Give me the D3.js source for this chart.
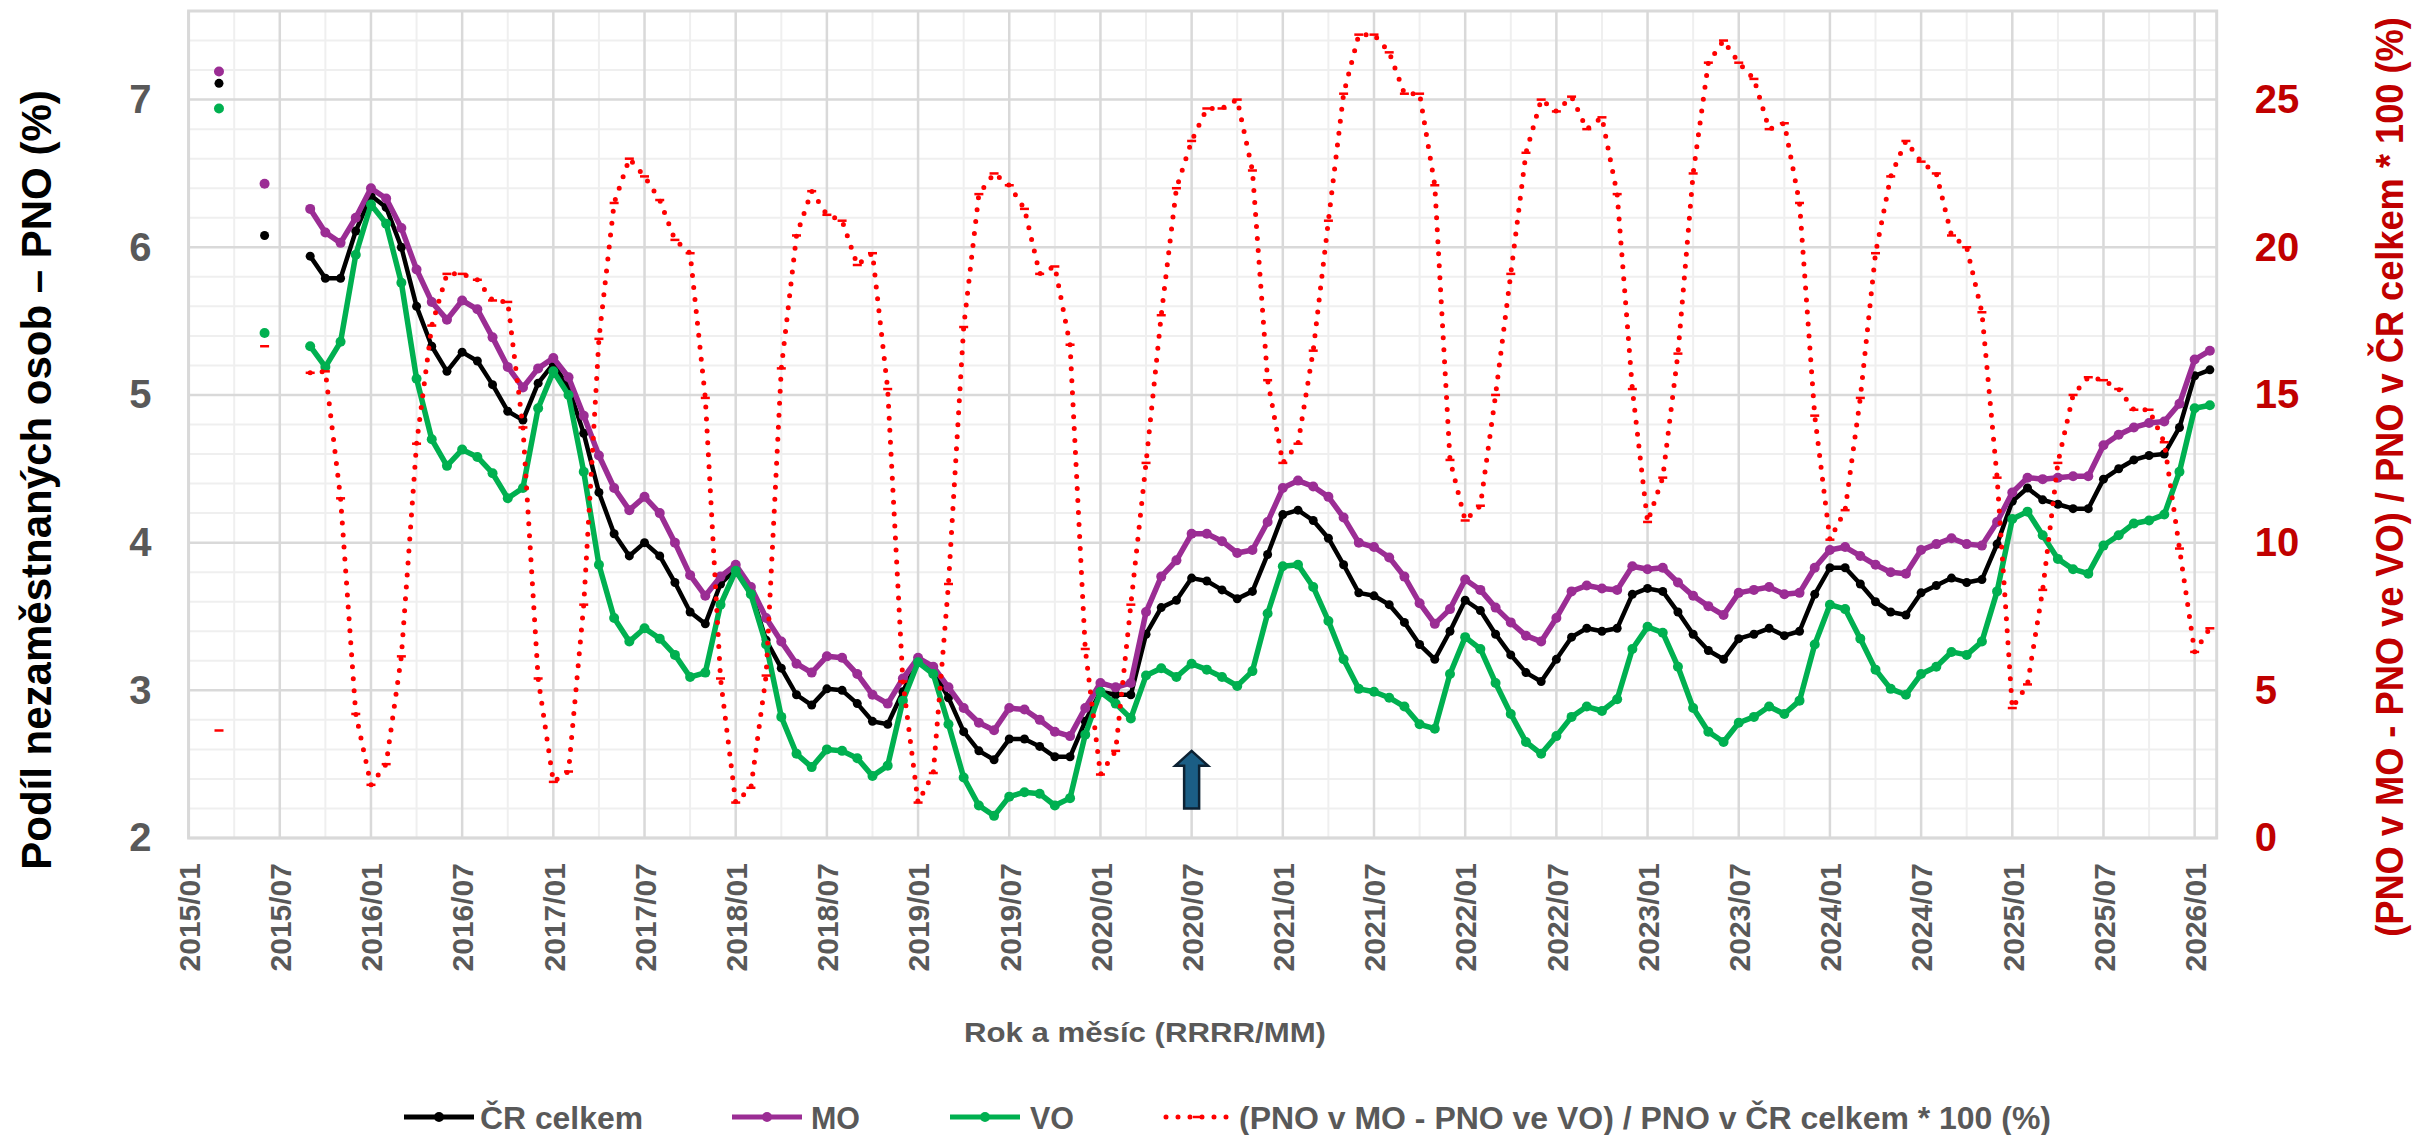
<!DOCTYPE html>
<html><head><meta charset="utf-8">
<script src="https://cdn.jsdelivr.net/npm/d3@7/dist/d3.min.js"></script>
<style>body{margin:0;background:#fff;} svg{display:block;}</style>
</head><body>
<svg id="c" width="2430" height="1135"></svg>
<script>
const months = [
"2015/03","2015/04","2015/05","2015/06","2015/07","2015/08","2015/09","2015/10","2015/11","2015/12",
"2016/01","2016/02","2016/03","2016/04","2016/05","2016/06","2016/07","2016/08","2016/09","2016/10","2016/11","2016/12",
"2017/01","2017/02","2017/03","2017/04","2017/05","2017/06","2017/07","2017/08","2017/09","2017/10","2017/11","2017/12",
"2018/01","2018/02","2018/03","2018/04","2018/05","2018/06","2018/07","2018/08","2018/09","2018/10","2018/11","2018/12",
"2019/01","2019/02","2019/03","2019/04","2019/05","2019/06","2019/07","2019/08","2019/09","2019/10","2019/11","2019/12",
"2020/01","2020/02","2020/03","2020/04","2020/05","2020/06","2020/07","2020/08","2020/09","2020/10","2020/11","2020/12",
"2021/01","2021/02","2021/03","2021/04","2021/05","2021/06","2021/07","2021/08","2021/09","2021/10","2021/11","2021/12",
"2022/01","2022/02","2022/03","2022/04","2022/05","2022/06","2022/07","2022/08","2022/09","2022/10","2022/11","2022/12",
"2023/01","2023/02","2023/03","2023/04","2023/05","2023/06","2023/07","2023/08","2023/09","2023/10","2023/11","2023/12",
"2024/01","2024/02","2024/03","2024/04","2024/05","2024/06","2024/07","2024/08","2024/09","2024/10","2024/11","2024/12",
"2025/01","2025/02","2025/03","2025/04","2025/05","2025/06","2025/07","2025/08","2025/09","2025/10","2025/11","2025/12",
"2026/01","2026/02"];

// ČR celkem (%)
const crCelkem = [
7.11,null,null,6.08,null,null,5.94,5.79,5.79,6.11,
6.35,6.27,6.00,5.60,5.33,5.16,5.29,5.23,5.07,4.89,4.83,5.08,
5.21,5.05,4.74,4.34,4.06,3.91,4.00,3.91,3.73,3.53,3.45,3.72,
3.82,3.67,3.34,3.15,2.97,2.90,3.01,3.00,2.91,2.79,2.77,2.99,
3.20,3.13,2.95,2.72,2.59,2.53,2.67,2.67,2.62,2.55,2.55,2.79,
2.99,2.97,2.97,3.38,3.56,3.61,3.76,3.74,3.68,3.62,3.67,3.92,
4.19,4.22,4.15,4.03,3.85,3.66,3.64,3.58,3.46,3.31,3.21,3.40,
3.61,3.54,3.38,3.24,3.12,3.06,3.21,3.36,3.42,3.40,3.42,3.65,
3.69,3.67,3.53,3.38,3.27,3.21,3.35,3.38,3.42,3.37,3.40,3.65,
3.83,3.83,3.72,3.60,3.53,3.51,3.66,3.71,3.76,3.73,3.75,3.99,
4.28,4.37,4.29,4.26,4.23,4.23,4.43,4.50,4.56,4.59,4.60,4.78,
5.13,5.17];

// MO (%)
const mo = [
7.19,null,null,6.43,null,null,6.26,6.10,6.03,6.20,
6.40,6.33,6.13,5.85,5.63,5.51,5.64,5.58,5.39,5.19,5.05,5.18,
5.25,5.12,4.86,4.59,4.37,4.22,4.31,4.20,4.00,3.78,3.64,3.77,
3.85,3.70,3.49,3.33,3.18,3.12,3.23,3.22,3.11,2.97,2.91,3.08,
3.22,3.16,3.02,2.88,2.78,2.73,2.88,2.87,2.80,2.72,2.69,2.88,
3.05,3.02,3.05,3.53,3.77,3.88,4.06,4.06,4.01,3.93,3.95,4.14,
4.37,4.42,4.38,4.31,4.17,4.00,3.97,3.90,3.77,3.59,3.45,3.55,
3.75,3.68,3.56,3.46,3.37,3.33,3.49,3.67,3.71,3.69,3.68,3.84,
3.82,3.83,3.73,3.64,3.57,3.51,3.66,3.68,3.70,3.65,3.66,3.83,
3.95,3.97,3.91,3.85,3.80,3.79,3.95,3.99,4.03,3.99,3.98,4.14,
4.34,4.44,4.43,4.44,4.45,4.45,4.66,4.73,4.78,4.81,4.82,4.94,
5.24,5.30];

// VO (%)
const vo = [
6.94,null,null,5.42,null,null,5.33,5.19,5.36,5.95,
6.29,6.16,5.76,5.11,4.70,4.52,4.63,4.58,4.47,4.30,4.37,4.91,
5.16,5.00,4.48,3.85,3.49,3.33,3.42,3.35,3.24,3.09,3.12,3.58,
3.81,3.65,3.31,2.82,2.57,2.48,2.60,2.59,2.54,2.42,2.49,2.93,
3.19,3.11,2.77,2.41,2.22,2.15,2.28,2.31,2.30,2.22,2.27,2.70,
2.99,2.91,2.81,3.10,3.15,3.09,3.18,3.14,3.09,3.03,3.13,3.52,
3.84,3.85,3.70,3.47,3.21,3.01,2.99,2.95,2.89,2.77,2.74,3.11,
3.36,3.28,3.05,2.84,2.65,2.57,2.69,2.82,2.89,2.86,2.94,3.28,
3.43,3.39,3.16,2.88,2.72,2.65,2.78,2.82,2.89,2.84,2.93,3.31,
3.58,3.55,3.35,3.14,3.01,2.97,3.11,3.16,3.26,3.24,3.33,3.67,
4.16,4.21,4.05,3.89,3.82,3.79,3.98,4.05,4.13,4.15,4.19,4.48,
4.91,4.93];

// (PNO v MO - PNO ve VO) / PNO v ČR celkem * 100 (%)
const rozdil = [
3.64,null,null,16.65,null,null,15.75,15.8,11.5,4.2,
1.8,2.5,6.15,13.35,17.35,19.1,19.1,18.9,18.2,18.15,13.9,5.4,
1.9,2.25,7.9,16.9,21.5,23.0,22.4,21.6,20.25,19.8,14.9,5.4,
1.2,1.7,5.5,15.9,20.4,21.9,21.1,20.9,19.4,19.8,15.2,5.3,
1.2,2.2,8.6,17.3,21.8,22.5,22.1,21.3,19.1,19.35,16.7,6.4,
2.15,2.95,7.9,12.7,17.7,22.0,23.6,24.7,24.7,25.0,22.6,15.5,
12.7,13.35,16.5,20.9,25.2,27.2,27.2,26.6,25.2,25.2,22.1,12.8,
10.75,11.25,15.0,19.1,23.2,25.0,24.6,25.1,24.0,24.4,21.8,15.2,
10.7,12.2,16.4,22.5,26.25,27.0,26.25,25.7,24.0,24.2,21.5,14.3,
10.1,11.1,14.9,19.8,22.4,23.6,22.9,22.5,20.4,20.0,17.8,12.2,
4.4,5.2,8.4,12.7,15.0,15.6,15.5,15.2,14.5,14.5,13.4,9.8,
6.3,7.1];

const xTickLabels = ["2015/01","2015/07","2016/01","2016/07","2017/01","2017/07","2018/01","2018/07",
"2019/01","2019/07","2020/01","2020/07","2021/01","2021/07","2022/01","2022/07","2023/01","2023/07",
"2024/01","2024/07","2025/01","2025/07","2026/01"];
const yLeftTicks = [2,3,4,5,6,7];
const yRightTicks = [0,5,10,15,20,25];
const arrowMonth = "2020/07";

const seriesNames = ["ČR celkem","MO","VO","(PNO v MO - PNO ve VO) / PNO v ČR celkem * 100 (%)"];
const seriesColors = ["#000000","#9b2d94","#00b050","#ff0000"];

// ---------- layout ----------
const L = 188.6, R = 2216.7, T = 11, B = 838;
const mIndex = s => { const [y,m] = s.split("/").map(Number); return (y-2015)*12 + (m-1); };
const x = d3.scaleLinear().domain([0, 133.45]).range([L, R]);
const yL = d3.scaleLinear().domain([2, 7.6]).range([B, T]);
const yR = d3.scaleLinear().domain([0, 28]).range([B, T]);

const svg = d3.select("#c");
const FONT = "'Liberation Sans', Arial, sans-serif";
const NARROW = "'Liberation Sans Narrow', 'Liberation Sans', Arial, sans-serif";
const GRAY = "#595959";

// text squeezed to a target length via a transform scale
function squeezed(parent, cx, cy, rot, target, size, color, str, anchor) {
  const t = parent.append("text").attr("font-family", NARROW).attr("font-weight", "bold")
    .attr("font-size", size).attr("fill", color).attr("text-anchor", anchor || "middle").text(str);
  const nat = t.node().getComputedTextLength();
  const k = Math.min(1, target / nat);
  t.attr("transform", `translate(${cx},${cy}) rotate(${rot}) scale(${k},1)`);
  return t;
}

// grid
const g = svg.append("g");
const minorY = d3.range(2, 7.61, 0.2).filter(v => Math.abs(v - Math.round(v)) > 0.01);
g.selectAll(".mh").data(minorY).join("line")
  .attr("x1", L).attr("x2", R).attr("y1", d => yL(d)).attr("y2", d => yL(d))
  .attr("stroke", "#efefef").attr("stroke-width", 2);
const minorX = d3.range(3, 134, 6);
g.selectAll(".mv").data(minorX).join("line")
  .attr("x1", d => x(d)).attr("x2", d => x(d)).attr("y1", T).attr("y2", B)
  .attr("stroke", "#efefef").attr("stroke-width", 2);
g.selectAll(".MH").data(yLeftTicks).join("line")
  .attr("x1", L).attr("x2", R).attr("y1", d => yL(d)).attr("y2", d => yL(d))
  .attr("stroke", "#d9d9d9").attr("stroke-width", 2.5);
g.selectAll(".MV").data(xTickLabels).join("line")
  .attr("x1", d => x(mIndex(d))).attr("x2", d => x(mIndex(d))).attr("y1", T).attr("y2", B)
  .attr("stroke", "#d9d9d9").attr("stroke-width", 2.5);
g.append("rect").attr("x", L).attr("y", T).attr("width", R - L).attr("height", B - T)
  .attr("fill", "none").attr("stroke", "#d9d9d9").attr("stroke-width", 3);

// axes labels
const yAxisL = d3.axisLeft(yL).tickValues(yLeftTicks).tickSize(0).tickPadding(37).tickFormat(d3.format("d"));
svg.append("g").attr("transform", `translate(${L},0)`).call(yAxisL)
  .call(s => s.select(".domain").remove())
  .selectAll("text").attr("font-family", FONT).attr("font-weight", "bold")
  .attr("font-size", 40).attr("fill", GRAY);

const yAxisR = d3.axisRight(yR).tickValues(yRightTicks).tickSize(0).tickPadding(38).tickFormat(d3.format("d"));
svg.append("g").attr("transform", `translate(${R},0)`).call(yAxisR)
  .call(s => s.select(".domain").remove())
  .selectAll("text").attr("font-family", FONT).attr("font-weight", "bold")
  .attr("font-size", 40).attr("fill", "#c00000");

const xAxis = d3.axisBottom(x).tickValues(xTickLabels.map(mIndex)).tickSize(0)
  .tickFormat((d, i) => xTickLabels[i]);
const xg = svg.append("g").attr("transform", `translate(0,${B})`).call(xAxis);
xg.select(".domain").remove();
xg.selectAll("text").attr("font-family", FONT).attr("font-weight", "bold")
  .attr("font-size", 30).attr("fill", GRAY)
  .attr("transform", "rotate(-90)").attr("text-anchor", "end")
  .attr("x", -25).attr("y", 0).attr("dy", "0.36em");

// axis titles
squeezed(svg, 51, 480, -90, 789, 42, "#000", "Podíl nezaměstnaných osob – PNO (%)");
squeezed(svg, 2403, 477, -90, 920, 38, "#c00000", "(PNO v MO - PNO ve VO) / PNO v ČR celkem * 100 (%)");
svg.append("text").attr("x", 1145).attr("y", 1042)
  .attr("text-anchor", "middle").attr("font-family", FONT).attr("font-weight", "bold")
  .attr("font-size", 28).attr("fill", GRAY)
  .attr("textLength", 362).attr("lengthAdjust", "spacingAndGlyphs")
  .text("Rok a měsíc (RRRR/MM)");

// series
const rows = months.map((m, i) => ({ i: mIndex(m), cr: crCelkem[i], mo: mo[i], vo: vo[i], r: rozdil[i] }));
function drawLine(key, color, width, r) {
  const line = d3.line().defined(d => d[key] != null).x(d => x(d.i)).y(d => yL(d[key]));
  svg.append("path").datum(rows).attr("d", line).attr("fill", "none")
    .attr("stroke", color).attr("stroke-width", width).attr("stroke-linejoin", "round");
  svg.append("g").selectAll("circle").data(rows.filter(d => d[key] != null)).join("circle")
    .attr("cx", d => x(d.i)).attr("cy", d => yL(d[key])).attr("r", r).attr("fill", color);
}
drawLine("cr", seriesColors[0], 4.5, 4.5);
drawLine("mo", seriesColors[1], 5.5, 5);
drawLine("vo", seriesColors[2], 5.5, 5);

const rline = d3.line().defined(d => d.r != null).x(d => x(d.i)).y(d => yR(d.r));
svg.append("path").datum(rows).attr("d", rline).attr("fill", "none")
  .attr("stroke", seriesColors[3]).attr("stroke-width", 5)
  .attr("stroke-dasharray", "0 12").attr("stroke-linecap", "round");
svg.append("g").selectAll("line").data(rows.filter(d => d.r != null)).join("line")
  .attr("x1", d => x(d.i) - 4.5).attr("x2", d => x(d.i) + 4.5)
  .attr("y1", d => yR(d.r)).attr("y2", d => yR(d.r))
  .attr("stroke", seriesColors[3]).attr("stroke-width", 2.5);

// arrow
const ax = x(mIndex(arrowMonth));
const aTip = yL(2.59), aBase = yL(2.20), aNeck = aTip + 15, hw = 16.5, sw = 7.5;
svg.append("path")
  .attr("d", `M${ax},${aTip} L${ax + hw},${aNeck} L${ax + sw},${aNeck} L${ax + sw},${aBase} L${ax - sw},${aBase} L${ax - sw},${aNeck} L${ax - hw},${aNeck} Z`)
  .attr("fill", "#1b5e85").attr("stroke", "#0d2233").attr("stroke-width", 2.5)
  .attr("stroke-linejoin", "miter");

// legend
const legY = 1117;
const legend = [
  { sx: 404, tx: 480, tl: 163 },
  { sx: 732, tx: 811, tl: 49 },
  { sx: 950, tx: 1030, tl: 44 },
  { sx: 1163, tx: 1239, tl: 812 }
];
legend.forEach((p, k) => {
  const lg = svg.append("g");
  if (k < 3) {
    lg.append("line").attr("x1", p.sx).attr("x2", p.sx + 70).attr("y1", legY).attr("y2", legY)
      .attr("stroke", seriesColors[k]).attr("stroke-width", 5);
    lg.append("circle").attr("cx", p.sx + 35).attr("cy", legY).attr("r", 5).attr("fill", seriesColors[k]);
  } else {
    lg.append("line").attr("x1", p.sx + 3).attr("x2", p.sx + 68).attr("y1", legY).attr("y2", legY)
      .attr("stroke", seriesColors[k]).attr("stroke-width", 5)
      .attr("stroke-dasharray", "0 12").attr("stroke-linecap", "round");
    lg.append("line").attr("x1", p.sx + 30).attr("x2", p.sx + 39).attr("y1", legY).attr("y2", legY)
      .attr("stroke", seriesColors[k]).attr("stroke-width", 2.5);
  }
  lg.append("text").attr("x", p.tx).attr("y", legY).attr("dy", "0.36em")
    .attr("font-family", NARROW).attr("font-weight", "bold").attr("font-size", 32).attr("fill", GRAY)
    .attr("textLength", p.tl).attr("lengthAdjust", "spacingAndGlyphs")
    .text(seriesNames[k]);
});
</script>
</body></html>
